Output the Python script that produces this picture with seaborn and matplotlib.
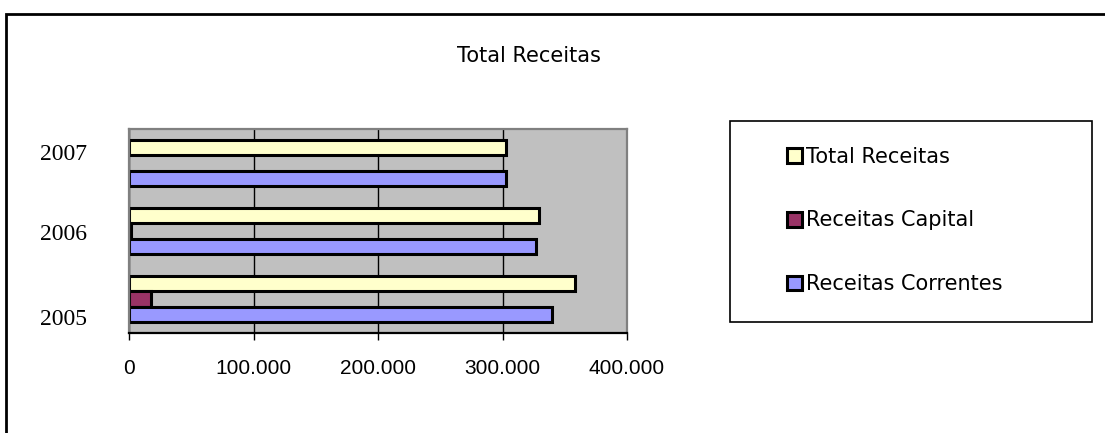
import numpy as np
import pandas as pd
import seaborn as sns
import matplotlib.pyplot as plt
import matplotlib.transforms as mtransforms
from matplotlib.patches import Rectangle
from matplotlib.ticker import FuncFormatter

# dados
anos = ['2007', '2006', '2005']
series = ['Total Receitas', 'Receitas Capital', 'Receitas Correntes']
total_receitas = [303000, 329000, 358000]
receitas_capital = [np.nan, 2000, 18000]
receitas_correntes = [303000, 327000, 340000]
cores = ['#FFFFCC', '#993366', '#9999FF']
x_ticks = [0, 100000, 200000, 300000, 400000]

df = pd.DataFrame({
    'ano': anos * 3,
    'serie': [s for s in series for _ in anos],
    'valor': total_receitas + receitas_capital + receitas_correntes,
})

sns.set_style('white')
plt.rcParams['text.color'] = 'black'
plt.rcParams['xtick.color'] = 'black'
plt.rcParams['ytick.color'] = 'black'

fig = plt.figure(figsize=(11.05, 4.33), dpi=100)
ax = fig.add_axes([129 / 1105, 1 - 333 / 433, 498 / 1105, 204 / 433])

sns.barplot(data=df, x='valor', y='ano', hue='serie', order=anos,
            hue_order=series, palette=cores, orient='h', width=0.69,
            edgecolor='black', linewidth=2.2, saturation=1, ax=ax)

ax.set_facecolor('#C0C0C0')
ax.set_xlim(0, 400000)
ax.set_xticks(x_ticks)
ax.xaxis.set_major_formatter(FuncFormatter(lambda v, p: f'{v:,.0f}'.replace(',', '.')))
ax.grid(axis='x', color='black', linewidth=1.0)
ax.set_axisbelow(True)
ax.set_xlabel('')
ax.set_ylabel('')

for s in ['top', 'right', 'left']:
    ax.spines[s].set_color('#808080')
    ax.spines[s].set_linewidth(1.6)
ax.spines['bottom'].set_color('black')
ax.spines['bottom'].set_linewidth(1.6)

ax.tick_params(axis='x', direction='out', length=5, width=1, color='black',
               bottom=True, pad=14, labelsize=15, labelcolor='black',
               labelfontfamily='Liberation Sans')
ax.tick_params(axis='y', left=False, pad=27, labelsize=17, labelcolor='black',
               labelfontfamily='Liberation Serif')

# os rótulos dos anos no original não ficam centrados no grupo
desloc = {'2007': 8, '2006': -1, '2005': -13}
for lab in ax.get_yticklabels():
    dy = desloc.get(lab.get_text(), 0)
    lab.set_transform(lab.get_transform() +
                      mtransforms.ScaledTranslation(0, dy / 72, fig.dpi_scale_trans))

handles, labels = ax.get_legend_handles_labels()
ax.get_legend().remove()
leg = fig.legend(handles, labels, loc='center left',
                 bbox_to_anchor=(787 / 1105, 1 - 220.5 / 433),
                 frameon=False, borderpad=0, borderaxespad=0,
                 handlelength=0.7, handleheight=0.7, handletextpad=0.2,
                 labelspacing=2.1, prop={'family': 'DejaVu Sans', 'size': 15})
for t in leg.get_texts():
    t.set_color('black')

# caixa da legenda
fig.patches.append(Rectangle((730 / 1105, 1 - 322 / 433), 362 / 1105, 201 / 433,
                             fill=False, edgecolor='black', linewidth=1.2,
                             transform=fig.transFigure, figure=fig))
# borda exterior
fig.patches.append(Rectangle((6 / 1105, -0.2), 1.2, 1.2 - 14 / 433,
                             fill=False, edgecolor='black', linewidth=2.0,
                             transform=fig.transFigure, figure=fig))

fig.text(529 / 1105, 1 - 56 / 433, 'Total Receitas', ha='center', va='center',
         fontsize=15, family='DejaVu Sans', color='black')

fig.savefig('out.png', dpi=100)
